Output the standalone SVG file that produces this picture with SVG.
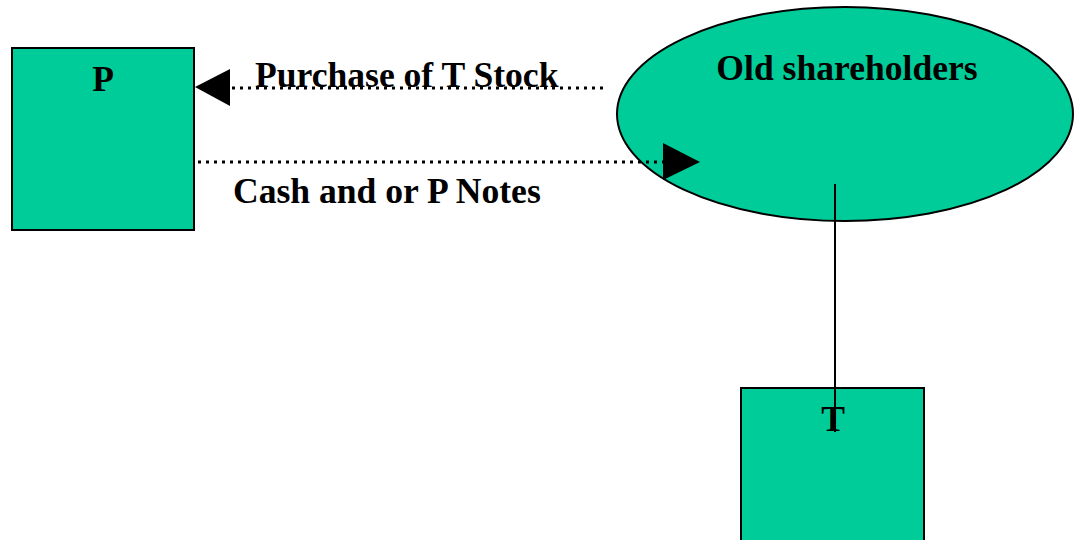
<svg xmlns="http://www.w3.org/2000/svg" width="1074" height="540" viewBox="0 0 1074 540">
  <style>
    .node { fill: #00CC99; stroke: #000; stroke-width: 2; }
    .lbl { font-family: "Liberation Serif", "Times New Roman", serif; font-weight: bold; font-size: 35.6px; fill: #000; }
    .dot { stroke: #000; stroke-width: 3; stroke-dasharray: 3 5; fill: none; }
    .solid { stroke: #000; stroke-width: 2; fill: none; }
  </style>
  <rect width="1074" height="540" fill="#fff"/>

  <g id="node-p">
    <rect class="node" x="12" y="48" width="182" height="182"/>
    <text class="lbl" x="103" y="91" text-anchor="middle">P</text>
  </g>

  <g id="node-old-shareholders">
    <ellipse class="node" cx="845" cy="114" rx="228" ry="107" stroke-width="1.6"/>
    <text class="lbl" x="847" y="80" text-anchor="middle">Old shareholders</text>
  </g>

  <g id="node-t">
    <rect class="node" x="741" y="388" width="183" height="183"/>
    <text class="lbl" x="833" y="431" text-anchor="middle">T</text>
  </g>

  <g id="connectors">
    <!-- stock flows from old shareholders to P -->
    <line class="dot" x1="232" y1="88" x2="606" y2="88"/>
    <polygon points="195,87 230,69 230,106" fill="#000"/>
    <!-- cash / notes flow from P to old shareholders -->
    <line class="dot" x1="198" y1="162" x2="664" y2="162"/>
    <polygon points="700,162 663,143 663,180" fill="#000"/>
    <!-- ownership link -->
    <line class="solid" x1="835" y1="184" x2="835" y2="432"/>
  </g>

  <text class="lbl" x="255" y="87">Purchase of T Stock</text>
  <text class="lbl" x="233" y="203">Cash and or P Notes</text>
</svg>
